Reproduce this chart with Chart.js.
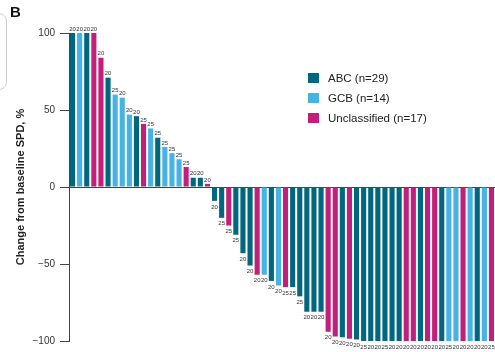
<!DOCTYPE html>
<html>
<head>
<meta charset="utf-8">
<script src="https://cdn.jsdelivr.net/npm/chart.js@4/dist/chart.umd.min.js"></script>
<style>
  html, body { margin: 0; padding: 0; background: #fff; }
  #wrap { position: relative; width: 495px; height: 352px; overflow: hidden; font-family: "Liberation Sans", Arial, sans-serif; }
  #panel { position: absolute; left: 10px; top: 3px; font-weight: bold; font-size: 15px; color: #111; }
  #edge { position: absolute; left: -20px; top: 13px; width: 25px; height: 75px; border: 1px solid #cfcfcf; border-radius: 8px; }
  #legend { position: absolute; left: 308px; top: 70px; font-size: 11.5px; color: #222; }
  .item { position: absolute; left: 0; white-space: nowrap; height: 12px; line-height: 12px; }
  .sw { position: absolute; left: 0; top: 1px; width: 11px; height: 10px; }
  .lab { position: absolute; left: 20px; top: 0; }
  canvas { position: absolute; left: 0; top: 0; }
</style>
</head>
<body>
<div id="wrap">
  <canvas id="c" width="495" height="352"></canvas>
  <div id="edge"></div>
  <div id="panel">B</div>
  <div id="legend"></div>
</div>
<script>
// Per-patient best change from baseline SPD (%), sorted high to low
const patients = ['1','2','3','4','5','6','7','8','9','10','11','12','13','14','15','16','17','18','19','20',
  '21','22','23','24','25','26','27','28','29','30','31','32','33','34','35','36','37','38','39','40',
  '41','42','43','44','45','46','47','48','49','50','51','52','53','54','55','56','57','58','59','60'];

const changePct = [100, 100, 100, 100, 84, 71, 60, 58, 47, 46, 41, 38, 32, 26, 22, 18, 13, 6, 6, 2,
  -9, -20, -25, -31, -43, -51, -57, -57, -61, -64, -65, -65, -71, -81, -81, -81, -94, -97, -97.5, -98.5,
  -99, -100, -100, -100, -100, -100, -100, -100, -100, -100, -100, -100, -100, -100, -100, -100, -100, -100, -100, -100];

// Cell-of-origin subtype for each patient
const subtype = ['ABC','GCB','ABC','UNC','UNC','ABC','GCB','GCB','GCB','ABC',
  'UNC','GCB','ABC','GCB','GCB','GCB','UNC','ABC','ABC','UNC',
  'ABC','ABC','UNC','ABC','ABC','ABC','UNC','GCB','ABC','GCB',
  'UNC','ABC','ABC','ABC','ABC','ABC','UNC','UNC','ABC','UNC',
  'ABC','ABC','ABC','ABC','ABC','ABC','ABC','UNC','UNC','ABC',
  'UNC','UNC','ABC','GCB','GCB','UNC','GCB','ABC','GCB','UNC'];

// Dose level (mg) printed at the end of each bar
const dose = [20, 20, 20, 20, 20, 20, 25, 20, 20, 20, 25, 25, 25, 25, 25, 25, 25, 20, 20, 20,
  20, 25, 25, 25, 20, 20, 20, 20, 20, 20, 25, 25, 25, 20, 20, 20, 20, 20, 20, 20,
  20, 25, 20, 20, 25, 20, 20, 20, 20, 20, 20, 20, 20, 25, 20, 20, 20, 20, 20, 25];

const yTicks = [100, 50, 0, -50, -100];

const legendNames = ['ABC (n=29)', 'GCB (n=14)', 'Unclassified (n=17)'];
const legendKeys = ['ABC', 'GCB', 'UNC'];

const palette = { ABC: '#00677f', GCB: '#47b2e4', UNC: '#c21f7a' };

// Legend
const legend = document.getElementById('legend');
const legendTops = [2, 22, 42];
legendKeys.forEach((k, i) => {
  const it = document.createElement('div');
  it.className = 'item';
  it.style.top = legendTops[i] + 'px';
  it.innerHTML = '<span class="sw" style="background:' + palette[k] + '"></span><span class="lab"></span>';
  it.querySelector('.lab').textContent = legendNames[i];
  legend.appendChild(it);
});

const fmt = v => (v < 0 ? '\u2212' + Math.abs(v) : String(v));

// Dose labels at the tip of each bar
const doseLabels = {
  id: 'doseLabels',
  afterDatasetsDraw(chart) {
    const ctx = chart.ctx;
    const meta = chart.getDatasetMeta(0);
    ctx.save();
    ctx.font = '6px "Liberation Sans", Arial, sans-serif';
    ctx.fillStyle = '#333';
    ctx.textAlign = 'center';
    meta.data.forEach((bar, i) => {
      const v = changePct[i];
      if (v >= 0) {
        ctx.textBaseline = 'bottom';
        ctx.fillText(String(dose[i]), bar.x, bar.y - 1);
      } else {
        ctx.textBaseline = 'top';
        ctx.fillText(String(dose[i]), bar.x, bar.y + 3);
      }
    });
    ctx.restore();
  }
};

new Chart(document.getElementById('c'), {
  type: 'bar',
  data: {
    labels: patients,
    datasets: [{
      data: changePct,
      backgroundColor: subtype.map(s => palette[s]),
      borderWidth: 0,
      categoryPercentage: 1,
      barPercentage: 0.72
    }]
  },
  options: {
    responsive: false,
    animation: false,
    events: [],
    layout: { padding: { top: 33, bottom: 9, right: 0, left: 0 } },
    plugins: { legend: { display: false }, tooltip: { enabled: false } },
    scales: {
      x: { display: false, offset: true },
      y: {
        min: -100, max: 100,
        afterBuildTicks(scale) { scale.ticks = yTicks.map(v => ({ value: v })); },
        afterFit(scale) { scale.width = 69; },
        border: { display: true, color: '#444', width: 1 },
        grid: {
          drawOnChartArea: true,
          color: c => (c.tick && c.tick.value === 0 ? '#444' : 'rgba(0,0,0,0)'),
          tickColor: '#444',
          tickLength: 9,
          lineWidth: 1
        },
        ticks: {
          padding: 5,
          color: '#333',
          font: { family: '"Liberation Sans", Arial, sans-serif', size: 10 },
          callback: v => fmt(v)
        },
        title: {
          display: true,
          text: 'Change from baseline SPD, %',
          color: '#222',
          font: { family: '"Liberation Sans", Arial, sans-serif', size: 11, weight: 'bold' },
          padding: { top: 14, bottom: 0 }
        }
      }
    }
  },
  plugins: [doseLabels]
});
</script>
</body>
</html>
